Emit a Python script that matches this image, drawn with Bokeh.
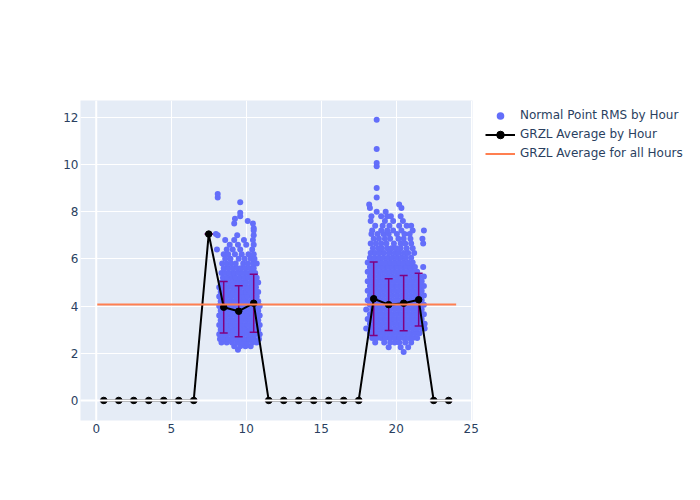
from bokeh.plotting import figure
from bokeh.layouts import row
from bokeh.models import (ColumnDataSource, Legend, LegendItem,
                          Span, Range1d, FixedTicker)
from bokeh.embed import file_html
from bokeh.resources import INLINE

# ---------------- data ----------------
hour_x = [0.5, 1.5, 2.5, 3.5, 4.5, 5.5, 6.5, 7.5, 8.5, 9.5, 10.5, 11.5,
          12.5, 13.5, 14.5, 15.5, 16.5, 17.5, 18.5, 19.5, 20.5, 21.5, 22.5, 23.5]
hour_avg = [0, 0, 0, 0, 0, 0, 0, 7.05, 3.95, 3.78, 4.12, 0,
            0, 0, 0, 0, 0, 0, 4.31, 4.06, 4.12, 4.27, 0, 0]
hour_std = [0, 0, 0, 0, 0, 0, 0, 0, 1.09, 1.08, 1.23, 0,
            0, 0, 0, 0, 0, 0, 1.56, 1.10, 1.17, 1.12, 0, 0]
overall_x = [0, 24]
overall_avg = [4.07, 4.07]
legend_labels = ["Normal Point RMS by Hour", "GRZL Average by Hour",
                 "GRZL Average for all Hours"]

# Normal point RMS values, grouped by RMS value (y) -> times of day (x)
rms_rows_morning = [
    (2.15, [9.45]),
    (2.3, [9.2, 9.6, 9.95, 10.3]),
    (2.45, [8.35, 8.7, 9.05, 9.4, 9.75, 10.05, 10.4, 10.7]),
    (2.6, [8.25, 8.5, 8.8, 9.1, 9.35, 9.65, 9.9, 10.2, 10.5, 10.85]),
    (2.8, [8.2, 8.45, 8.7, 9.0, 9.25, 9.55, 9.8, 10.1, 10.35, 10.6, 10.9]),
    (3.0, [8.3, 8.6, 8.85, 9.15, 9.4, 9.7, 9.95, 10.25, 10.5, 10.8]),
    (3.2, [8.2, 8.45, 8.75, 9.0, 9.3, 9.55, 9.85, 10.1, 10.4, 10.65, 10.9]),
    (3.4, [8.3, 8.6, 8.9, 9.15, 9.45, 9.7, 10.0, 10.25, 10.55, 10.8]),
    (3.6, [8.2, 8.45, 8.7, 9.0, 9.3, 9.6, 9.85, 10.1, 10.4, 10.65, 10.9]),
    (3.8, [8.3, 8.55, 8.85, 9.15, 9.4, 9.7, 9.95, 10.25, 10.5, 10.8]),
    (4.0, [8.2, 8.45, 8.75, 9.05, 9.3, 9.55, 9.85, 10.15, 10.4, 10.65, 10.9]),
    (4.2, [8.3, 8.6, 8.9, 9.2, 9.45, 9.75, 10.0, 10.3, 10.55, 10.8]),
    (4.4, [8.2, 8.45, 8.7, 9.0, 9.3, 9.6, 9.85, 10.1, 10.4, 10.7]),
    (4.6, [8.3, 8.6, 8.85, 9.15, 9.45, 9.7, 10.0, 10.25, 10.5, 10.8]),
    (4.8, [8.2, 8.5, 8.75, 9.05, 9.3, 9.6, 9.9, 10.15, 10.4, 10.65]),
    (5.0, [8.35, 8.6, 8.9, 9.2, 9.45, 9.75, 10.0, 10.3, 10.55, 10.8]),
    (5.2, [8.45, 8.75, 9.05, 9.3, 9.6, 9.9, 10.15, 10.45, 10.7]),
    (5.4, [8.35, 8.6, 8.9, 9.2, 9.5, 9.75, 10.05, 10.35, 10.6]),
    (5.6, [8.5, 8.8, 9.1, 9.4, 9.65, 9.95, 10.25, 10.5]),
    (5.8, [8.4, 8.7, 9.0, 9.3, 9.8, 10.1, 10.45, 10.7]),
    (6.0, [8.6, 8.95, 9.5, 9.9, 10.3, 10.55]),
    (6.2, [8.5, 8.8, 9.25, 9.7, 10.15, 10.5]),
    (6.4, [8.05, 8.7, 9.1, 9.6, 10.4]),
    (6.6, [8.9, 9.45, 10.0, 10.5]),
    (6.8, [8.6, 9.2, 9.85, 10.45]),
    (7.0, [8.1, 9.4, 10.5]),
    (7.05, [7.98]),
    (7.2, [10.5]),
    (7.3, [10.5]),
    (7.5, [9.2, 10.45]),
    (7.6, [10.1]),
    (7.7, [9.25]),
    (7.8, [9.6]),
    (7.95, [9.6]),
    (8.4, [9.6]),
    (8.6, [8.1]),
    (8.75, [8.1]),
]

rms_rows_evening = [
    (2.05, [20.5]),
    (2.25, [19.5, 20.3, 20.8]),
    (2.45, [18.6, 19.2, 19.6, 19.9, 20.2, 20.6, 21.0]),
    (2.65, [18.4, 18.7, 19.0, 19.3, 19.6, 19.9, 20.2, 20.5, 20.8, 21.1, 21.4]),
    (2.85, [18.25, 18.55, 18.85, 19.15, 19.45, 19.75, 20.05, 20.35, 20.65, 20.95, 21.25, 21.55]),
    (3.05, [18.0, 18.4, 18.7, 19.0, 19.3, 19.6, 19.9, 20.2, 20.5, 20.8, 21.1, 21.4, 21.7, 21.9]),
    (3.25, [18.25, 18.55, 18.85, 19.15, 19.45, 19.75, 20.05, 20.35, 20.65, 20.95, 21.25, 21.55, 21.9]),
    (3.45, [18.1, 18.4, 18.7, 19.0, 19.3, 19.6, 19.9, 20.2, 20.5, 20.8, 21.1, 21.4, 21.7]),
    (3.65, [18.25, 18.55, 18.85, 19.15, 19.45, 19.75, 20.05, 20.35, 20.65, 20.95, 21.25, 21.55, 21.85]),
    (3.85, [18.0, 18.4, 18.7, 19.0, 19.3, 19.6, 19.9, 20.2, 20.5, 20.8, 21.1, 21.4, 21.7]),
    (4.05, [18.25, 18.55, 18.85, 19.15, 19.45, 19.75, 20.05, 20.35, 20.65, 20.95, 21.25, 21.55, 21.85]),
    (4.25, [18.1, 18.4, 18.7, 19.0, 19.3, 19.6, 19.9, 20.2, 20.5, 20.8, 21.1, 21.4, 21.7]),
    (4.45, [18.25, 18.55, 18.85, 19.15, 19.45, 19.75, 20.05, 20.35, 20.65, 20.95, 21.25, 21.55, 21.85]),
    (4.65, [18.1, 18.4, 18.7, 19.0, 19.3, 19.6, 19.9, 20.2, 20.5, 20.8, 21.1, 21.4, 21.7]),
    (4.85, [18.25, 18.55, 18.85, 19.15, 19.45, 19.75, 20.05, 20.35, 20.65, 20.95, 21.25, 21.55, 21.85]),
    (5.05, [18.1, 18.4, 18.7, 19.0, 19.3, 19.6, 19.9, 20.2, 20.5, 20.8, 21.1, 21.4, 21.7]),
    (5.25, [18.25, 18.55, 18.85, 19.15, 19.45, 19.75, 20.05, 20.35, 20.65, 20.95, 21.25, 21.55, 21.85]),
    (5.45, [18.1, 18.4, 18.7, 19.0, 19.3, 19.6, 19.9, 20.2, 20.5, 20.8, 21.1, 21.4]),
    (5.65, [18.25, 18.55, 18.85, 19.15, 19.45, 19.75, 20.05, 20.35, 20.65, 20.95, 21.25, 21.8]),
    (5.85, [18.1, 18.4, 18.7, 19.0, 19.3, 19.6, 19.9, 20.2, 20.5, 20.8, 21.1]),
    (6.05, [18.25, 18.55, 18.85, 19.15, 19.45, 19.75, 20.05, 20.35, 20.65, 21.0]),
    (6.25, [18.3, 18.6, 18.9, 19.2, 19.55, 19.9, 20.15, 20.5, 20.8, 21.2]),
    (6.45, [18.45, 18.8, 19.05, 19.4, 19.7, 20.0, 20.3, 20.7, 21.1]),
    (6.65, [18.3, 18.65, 19.0, 19.35, 19.85, 20.3, 20.6, 21.0, 21.8]),
    (6.85, [18.5, 18.85, 19.25, 19.6, 20.15, 20.5, 20.95, 21.75]),
    (7.05, [18.35, 18.75, 19.15, 19.5, 20.05, 20.55, 20.9]),
    (7.2, [18.4, 19.0, 19.4, 19.8, 20.35, 21.1, 21.85]),
    (7.4, [18.6, 19.1, 19.55, 20.2, 20.7, 21.0]),
    (7.6, [18.3, 19.25, 19.8, 20.45]),
    (7.8, [18.35, 19.0, 19.4, 19.65, 20.3]),
    (8.0, [18.7, 19.3]),
    (8.15, [18.25, 20.35]),
    (8.3, [18.2, 20.2]),
    (8.6, [18.7]),
    (9.0, [18.7]),
    (9.92, [18.7]),
    (10.06, [18.7]),
    (10.65, [18.7]),
    (11.89, [18.7]),
]

pt_x, pt_y = [], []
for rows in (rms_rows_morning, rms_rows_evening):
    for yv, xs in rows:
        for xv in xs:
            pt_x.append(xv)
            pt_y.append(yv)

# ---------------- figure ----------------
FONT = "DejaVu Sans"
TXT = "#2a3f5f"
ERR = "#800080"
BLUE = "#636EFA"
ORANGE = "#FF7F50"

p = figure(width=480, height=500, output_backend="svg", toolbar_location=None,
           x_range=Range1d(-1.05, 25.09), y_range=Range1d(-0.85, 12.71),
           min_border_left=80, min_border_right=8, min_border_top=100,
           min_border_bottom=80)
p.background_fill_color = "#E5ECF6"
p.border_fill_color = "white"
p.outline_line_color = None

for ax in (p.xaxis[0], p.yaxis[0]):
    ax.axis_line_color = None
    ax.major_tick_line_color = None
    ax.minor_tick_line_color = None
    ax.major_tick_out = 0
    ax.major_tick_in = 0
    ax.minor_tick_out = 0
    ax.minor_tick_in = 0
    ax.major_label_text_font = FONT
    ax.major_label_text_font_size = "12px"
    ax.major_label_text_color = TXT
p.xaxis[0].major_label_standoff = 3
p.yaxis[0].major_label_standoff = 2
p.xaxis.ticker = FixedTicker(ticks=[0, 5, 10, 15, 20, 25])
p.yaxis.ticker = FixedTicker(ticks=[0, 2, 4, 6, 8, 10, 12])
p.xgrid.grid_line_color = "white"
p.ygrid.grid_line_color = "white"
p.xgrid.grid_line_width = 1
p.ygrid.grid_line_width = 1
p.add_layout(Span(location=0, dimension="height", line_color="white", line_width=2))
p.add_layout(Span(location=0, dimension="width", line_color="white", line_width=2))

p.scatter(pt_x, pt_y, size=6, color=BLUE, line_color=None)

hsrc = ColumnDataSource(dict(
    x=hour_x, y=hour_avg,
    upper=[a + s for a, s in zip(hour_avg, hour_std)],
    lower=[a - s for a, s in zip(hour_avg, hour_std)],
))
p.segment(x0="x", y0="lower", x1="x", y1="upper", source=hsrc,
          line_color=ERR, line_width=1.5)
p.scatter(x="x", y="upper", source=hsrc, marker="dash", size=8,
          line_color=ERR, line_width=1.5)
p.scatter(x="x", y="lower", source=hsrc, marker="dash", size=8,
          line_color=ERR, line_width=1.5)

p.line("x", "y", source=hsrc, line_color="black", line_width=2)
p.scatter("x", "y", source=hsrc, size=6.5, color="black")

p.line(overall_x, overall_avg, line_color=ORANGE, line_width=2)

# ---------------- legend panel ----------------
lf = figure(width=220, height=500, output_backend="svg", toolbar_location=None,
            x_range=Range1d(0, 1), y_range=Range1d(0, 1),
            x_axis_type=None, y_axis_type=None,
            min_border_left=0, min_border_right=0, min_border_top=100,
            min_border_bottom=80)
lf.outline_line_color = None
lf.xgrid.visible = False
lf.ygrid.visible = False
lf.background_fill_color = "white"
lf.border_fill_color = "white"

# off-screen proxies, only used to draw the legend glyphs
off_x, off_y = [-10, -9], [-10, -10]
g_pts = lf.scatter(x=off_x, y=off_y, size=6, color=BLUE, line_color=None)
g_ln = lf.line(x=off_x, y=off_y, line_color="black", line_width=2)
g_mk = lf.scatter(x=off_x, y=off_y, size=6.5, color="black")
g_ov = lf.line(x=off_x, y=off_y, line_color=ORANGE, line_width=2)

legend = Legend(items=[
    LegendItem(label=legend_labels[0], renderers=[g_pts]),
    LegendItem(label=legend_labels[1], renderers=[g_ln, g_mk]),
    LegendItem(label=legend_labels[2], renderers=[g_ov]),
], location=(5, 257.5), padding=0, spacing=0, margin=0,
    glyph_width=30, glyph_height=19, label_height=19, label_standoff=5,
    label_text_font=FONT, label_text_font_size="12px", label_text_color=TXT,
    background_fill_alpha=0, border_line_color=None)
lf.add_layout(legend)

layout = row(p, lf)
open("out.html", "w").write(file_html(layout, INLINE))
